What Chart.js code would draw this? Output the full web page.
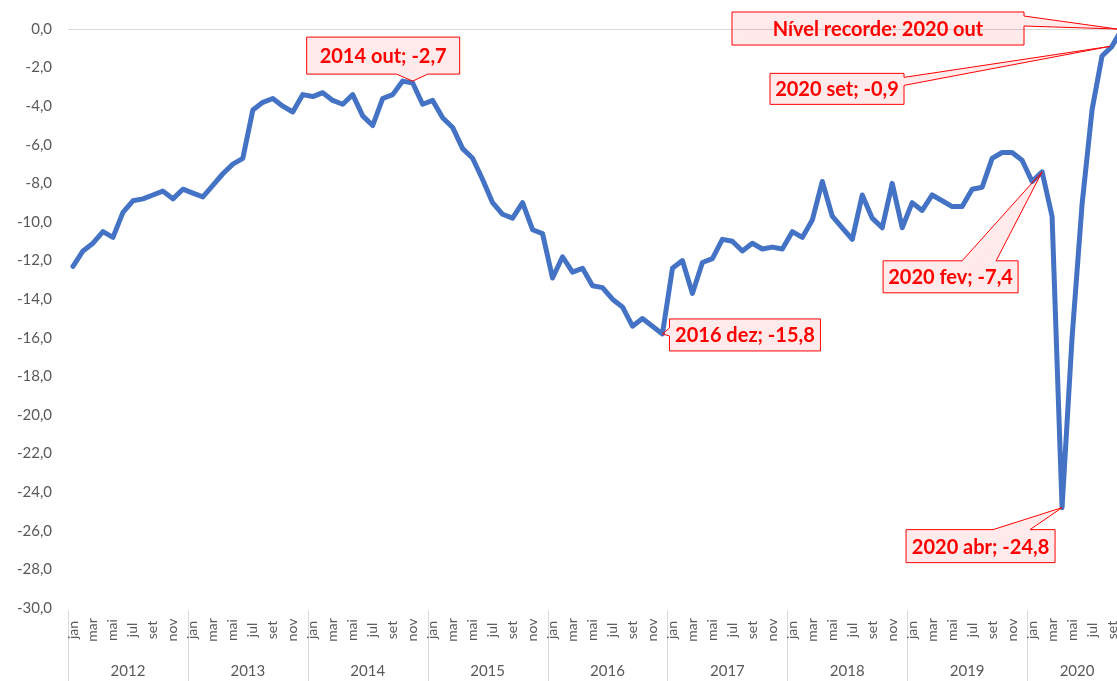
<!DOCTYPE html>
<html>
<head>
<meta charset="utf-8">
<script src="https://cdn.jsdelivr.net/npm/chart.js@4/dist/chart.umd.min.js"></script>
<style>
  html, body { margin: 0; padding: 0; background: #fff; overflow: hidden; }
  #wrap { position: relative; width: 1127px; height: 681px; }
</style>
</head>
<body>
<div id="wrap"><canvas id="myChart"></canvas></div>
<script>
const years = ['2012', '2013', '2014', '2015', '2016', '2017', '2018', '2019', '2020'];
const monthNames = ['jan', 'fev', 'mar', 'abr', 'mai', 'jun', 'jul', 'ago', 'set', 'out', 'nov', 'dez'];

const v2012 = [-12.3, -11.5, -11.1, -10.5, -10.8, -9.5, -8.9, -8.8, -8.6, -8.4, -8.8, -8.3];
const v2013 = [-8.5, -8.7, -8.1, -7.5, -7.0, -6.7, -4.2, -3.8, -3.6, -4.0, -4.3, -3.4];
const v2014 = [-3.5, -3.3, -3.7, -3.9, -3.4, -4.5, -5.0, -3.6, -3.4, -2.7, -2.8, -3.9];
const v2015 = [-3.7, -4.6, -5.1, -6.2, -6.7, -7.8, -9.0, -9.6, -9.8, -9.0, -10.4, -10.6];
const v2016 = [-12.9, -11.8, -12.6, -12.4, -13.3, -13.4, -14.0, -14.4, -15.4, -15.0, -15.4, -15.8];
const v2017 = [-12.4, -12.0, -13.7, -12.1, -11.9, -10.9, -11.0, -11.5, -11.1, -11.4, -11.3, -11.4];
const v2018 = [-10.5, -10.8, -9.9, -7.9, -9.7, -10.3, -10.9, -8.6, -9.8, -10.3, -8.0, -10.3];
const v2019 = [-9.0, -9.4, -8.6, -8.9, -9.2, -9.2, -8.3, -8.2, -6.7, -6.4, -6.4, -6.8];
const v2020 = [-7.9, -7.4, -9.7, -24.8, -16.0, -9.1, -4.2, -1.4, -0.9, 0.0];

const seriesByYear = [v2012, v2013, v2014, v2015, v2016, v2017, v2018, v2019, v2020];

// category labels "2012 jan" ... and the values in one flat list
const labels = [];
const values = [];
seriesByYear.forEach((arr, yi) => {
    arr.forEach((v, mi) => {
        labels.push(years[yi] + ' ' + monthNames[mi]);
        values.push(v);
    });
});

// callouts: text, category, box offset from the point, wedge side and span
const callouts = [
    { text: '2014 out; -2,7', label: '2014 out', dx: -96, dy: -44, w: 153, h: 37, side: 'bottom', a: 90, b: 121, tx: 10 },
    { text: '2016 dez; -15,8', label: '2016 dez', dx: 7, dy: -15, w: 151, h: 32, side: 'left', a: 9, b: 17, tx: 0 },
    { text: 'Nível recorde: 2020 out', label: '2020 out', dx: -390, dy: -17, w: 292, h: 33, side: 'right', a: 4, b: 14, tx: -5 },
    { text: '2020 set; -0,9', label: '2020 set', dx: -342, dy: 27, w: 134, h: 31, side: 'right', a: 4, b: 12, tx: -2 },
    { text: '2020 fev; -7,4', label: '2020 fev', dx: -159, dy: 89, w: 135, h: 32, side: 'top', a: 79, b: 113, tx: 0 },
    { text: '2020 abr; -24,8', label: '2020 abr', dx: -156, dy: 22, w: 149, h: 33, side: 'top', a: 87, b: 124, tx: 0 }
];

const FONT = 'Lato, "Open Sans", sans-serif';
const GREY = '#595959';

const axisLabels = {
    id: 'axisLabels',
    afterDraw(chart) {
        const ctx = chart.ctx;
        const xs = chart.scales.x;
        const area = chart.chartArea;
        const band = xs.getPixelForValue(1) - xs.getPixelForValue(0);
        ctx.save();
        // year separators
        ctx.strokeStyle = '#d9d9d9';
        ctx.lineWidth = 1;
        for (let i = 0; i <= labels.length; i += 12) {
            const x = Math.round(xs.getPixelForValue(0) - band / 2 + i * band) + 0.5;
            ctx.beginPath();
            ctx.moveTo(x, area.bottom + 2);
            ctx.lineTo(x, chart.height);
            ctx.stroke();
        }
        // year labels
        ctx.fillStyle = GREY;
        ctx.font = '15px ' + FONT;
        ctx.textAlign = 'center';
        ctx.textBaseline = 'middle';
        years.forEach((y, yi) => {
            const first = yi * 12;
            const last = Math.min(first + 11, labels.length - 1);
            const left = xs.getPixelForValue(first) - band / 2;
            const right = xs.getPixelForValue(last) + band / 2;
            ctx.fillText(y, (left + right) / 2, 671);
        });
        // month labels, every other month, rotated
        ctx.font = '14px ' + FONT;
        labels.forEach((lab, i) => {
            const m = i % 12;
            if (m % 2 !== 0) return;
            const x = xs.getPixelForValue(i);
            ctx.save();
            ctx.translate(x, 630);
            ctx.rotate(-Math.PI / 2);
            ctx.fillText(monthNames[m], 0, 0);
            ctx.restore();
        });
        ctx.restore();
    }
};

const calloutPlugin = {
    id: 'callouts',
    afterDraw(chart) {
        const ctx = chart.ctx;
        const xs = chart.scales.x;
        const ys = chart.scales.y;
        callouts.forEach(c => {
            const i = labels.indexOf(c.label);
            const px = xs.getPixelForValue(i);
            const py = ys.getPixelForValue(values[i]);
            const tipX = px + c.tx;
            const tipY = py;
            const x = px + c.dx, y = py + c.dy, w = c.w, h = c.h;
            ctx.save();
            ctx.beginPath();
            ctx.moveTo(x, y);
            if (c.side === 'top') {
                ctx.lineTo(x + c.a, y); ctx.lineTo(tipX, tipY); ctx.lineTo(x + c.b, y);
            }
            ctx.lineTo(x + w, y);
            if (c.side === 'right') {
                ctx.lineTo(x + w, y + c.a); ctx.lineTo(tipX, tipY); ctx.lineTo(x + w, y + c.b);
            }
            ctx.lineTo(x + w, y + h);
            if (c.side === 'bottom') {
                ctx.lineTo(x + c.b, y + h); ctx.lineTo(tipX, tipY); ctx.lineTo(x + c.a, y + h);
            }
            ctx.lineTo(x, y + h);
            if (c.side === 'left') {
                ctx.lineTo(x, y + c.b); ctx.lineTo(tipX, tipY); ctx.lineTo(x, y + c.a);
            }
            ctx.closePath();
            ctx.shadowColor = 'rgba(0,0,0,0.12)';
            ctx.shadowBlur = 6;
            ctx.shadowOffsetY = 2;
            ctx.fillStyle = 'rgba(255, 0, 0, 0.08)';
            ctx.fill();
            ctx.shadowColor = 'transparent';
            ctx.strokeStyle = '#ff0000';
            ctx.lineWidth = 1;
            ctx.stroke();
            ctx.fillStyle = '#ff0000';
            ctx.font = 'bold 20px ' + FONT;
            ctx.textAlign = 'center';
            ctx.textBaseline = 'middle';
            ctx.fillText(c.text, x + w / 2, y + h / 2 + 1);
            ctx.restore();
        });
    }
};

const data = {
    labels: labels,
    datasets: [
        {
            label: 'Saldo',
            data: values,
            borderColor: '#4472C4',
            backgroundColor: '#4472C4',
            borderWidth: 5,
            pointRadius: 0,
            tension: 0,
            borderJoinStyle: 'round',
            borderCapStyle: 'round'
        }
    ]
};

const config = {
    type: 'line',
    data: data,
    options: {
        responsive: true,
        maintainAspectRatio: false,
        animation: false,
        layout: { padding: { top: 29, left: 0, right: 0, bottom: 0 } },
        plugins: {
            legend: { display: false },
            tooltip: { enabled: false }
        },
        scales: {
            x: {
                type: 'category',
                offset: true,
                grid: { display: false },
                border: { display: false },
                ticks: { display: false },
                afterFit(scale) { scale.height = 73; }
            },
            y: {
                min: -30,
                max: 0,
                border: { display: false },
                grid: {
                    drawTicks: false,
                    color: ctx => (ctx.tick && ctx.tick.value === 0 ? '#d9d9d9' : 'transparent')
                },
                ticks: {
                    stepSize: 2,
                    padding: 16,
                    color: GREY,
                    font: { family: FONT, size: 15 },
                    callback: v => v.toFixed(1).replace('.', ',')
                },
                afterFit(scale) { scale.width = 68; }
            }
        }
    },
    plugins: [axisLabels, calloutPlugin]
};

const chart = new Chart(
    document.getElementById('myChart'),
    config
);
</script>
</body>
</html>
